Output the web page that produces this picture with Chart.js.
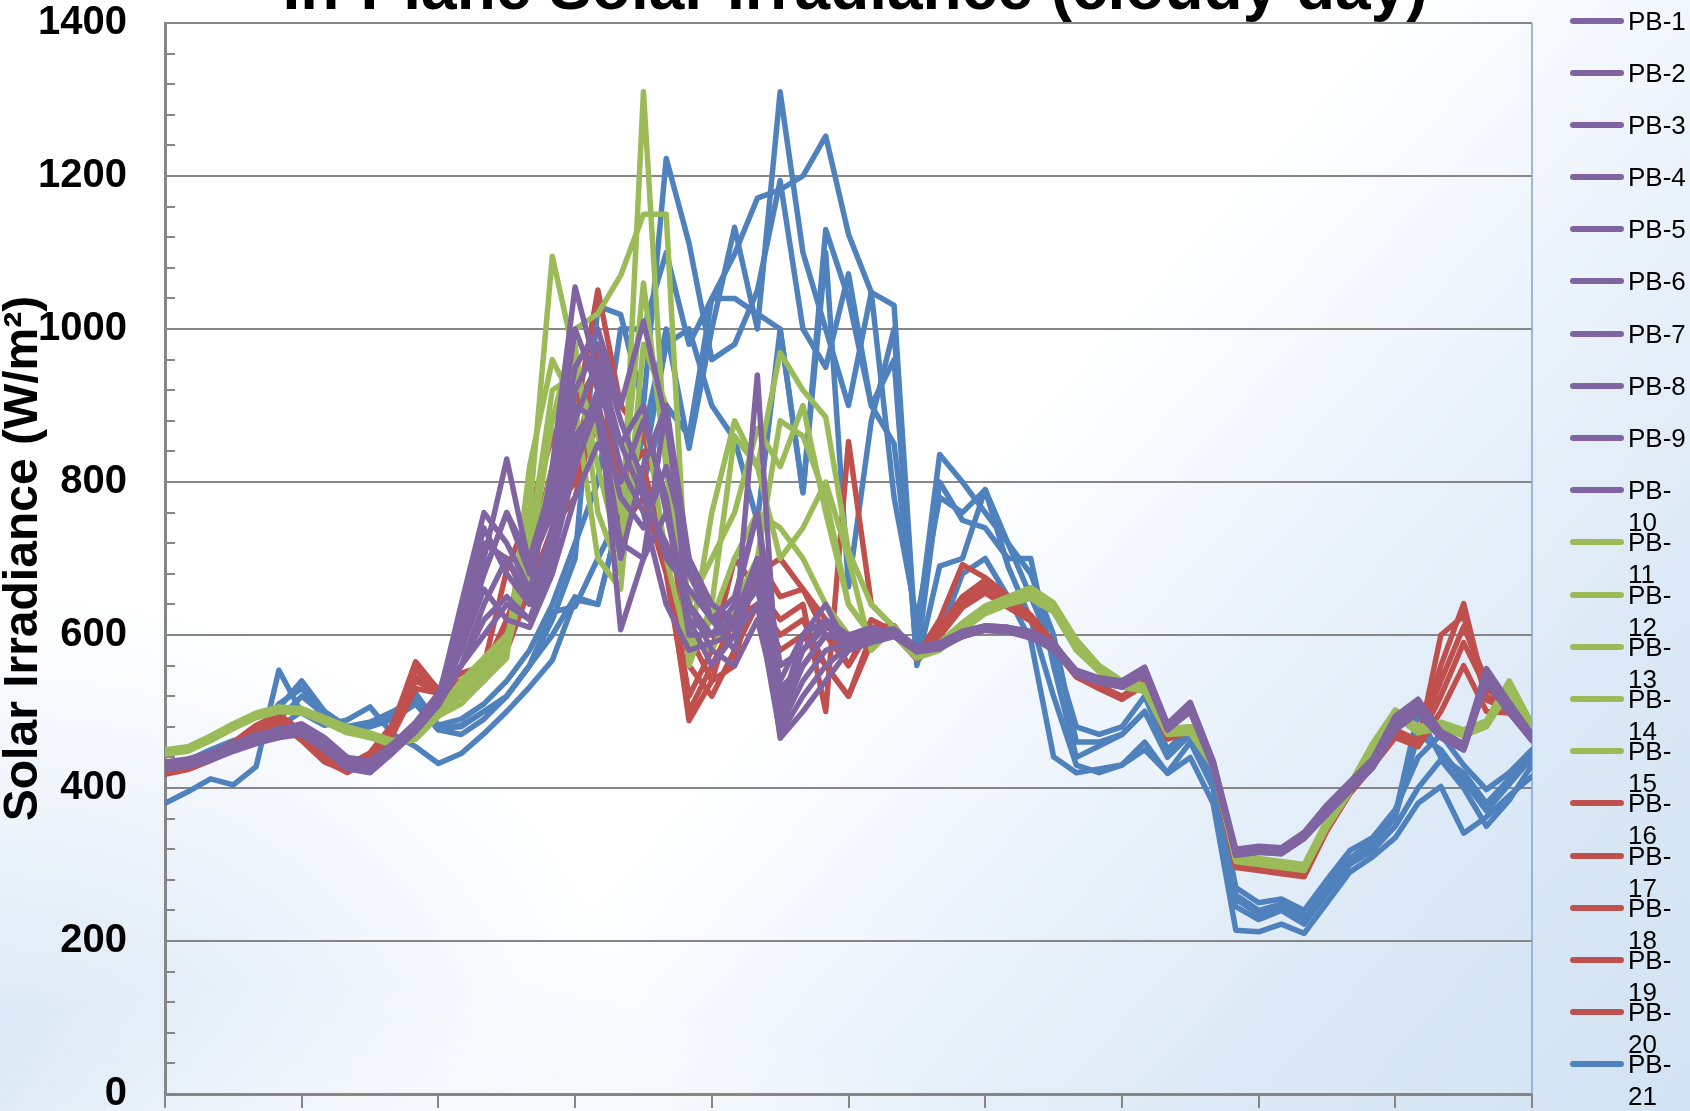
<!DOCTYPE html>
<html>
<head>
<meta charset="utf-8">
<title>In-Plane Solar Irradiance (cloudy day)</title>
<script src="https://cdn.jsdelivr.net/npm/chart.js@4.4.1/dist/chart.umd.min.js"></script>
<style>
  html, body { margin: 0; padding: 0; }
  body {
    width: 1690px; height: 1111px; overflow: hidden; position: relative;
    font-family: Arial, "Liberation Sans", sans-serif;
    background:
      radial-gradient(ellipse 1100px 480px at 22% 118%, rgba(255,255,255,0.95) 0%, rgba(255,255,255,0) 70%),
      radial-gradient(ellipse 650px 520px at 0% 100%, #d6e5f4 0%, rgba(214,229,244,0) 100%),
      linear-gradient(132deg, #ffffff 0%, #ffffff 52%, #edf4fb 66%, #dce9f6 82%, #d2e3f3 100%);
  }
  #chart { position: absolute; left: 0; top: 0; }
  #legend { position: absolute; left: 1568px; top: 0; width: 122px; margin: 0; padding: 0; list-style: none; }
  #legend li { position: relative; height: 52.2px; }
  #legend .swatch { position: absolute; left: 2px; top: 17.5px; width: 54px; height: 6px; border-radius: 3px; }
  #legend .lbl { position: absolute; left: 60px; top: 4.5px; width: 62px; font-size: 26px; line-height: 32px; color: #000; }
</style>
</head>
<body>
<canvas id="chart" width="1690" height="1111"></canvas>
<ul id="legend"></ul>
<script>
const chartTitle = "In-Plane Solar Irradiance (cloudy day)";
const yTitle = "Solar Irradiance (W/m\u00B2)";
const yTicks = [0, 200, 400, 600, 800, 1000, 1200, 1400];
const seriesNames = ["PB-1","PB-2","PB-3","PB-4","PB-5","PB-6","PB-7","PB-8","PB-9","PB-10",
  "PB-11","PB-12","PB-13","PB-14","PB-15","PB-16","PB-17","PB-18","PB-19","PB-20",
  "PB-21","PB-22","PB-23","PB-24","PB-25"];
const legendShown = 21; // the slide cuts the key off after PB-21

// readings, W/m2, one per sample (61 samples across the day)
const pb1 = [430,434,442,455,465,472,480,460,432,428,452,480,518,
  600,700,830,690,760,880,960,850,780,720,640,600,620,700,520,560,600,590,600,605,
  580,585,600,610,608,600,585,550,540,535,552,480,505,432,315,320,318,338,372,402,432,482,505,472,455,545,505,465];
const pb2 = [426,430,438,450,460,468,474,455,428,422,448,476,512,
  580,680,760,680,780,950,1000,900,1010,880,680,620,650,760,560,580,610,600,610,600,
  585,590,605,612,610,605,590,552,542,538,556,482,510,435,318,322,320,340,375,405,435,490,512,470,452,550,510,468];
const pb3 = [432,436,444,456,468,474,482,462,436,430,456,484,522,
  620,720,700,650,820,1055,940,820,760,640,580,590,600,640,470,520,560,585,595,600,
  578,582,598,608,606,598,580,548,538,532,548,478,500,430,312,318,316,336,368,398,428,478,500,468,450,540,500,462];
const pb4 = [424,428,436,448,458,466,470,450,425,420,446,474,508,
  560,640,700,640,720,900,880,700,820,900,620,560,600,940,480,540,580,590,600,600,
  582,588,602,610,606,602,588,550,540,536,554,480,508,434,316,320,318,338,370,400,432,486,508,468,452,548,506,466];
const pb5 = [428,432,440,452,462,470,478,462,436,432,454,480,516,
  640,760,720,660,700,820,900,720,700,760,640,580,560,620,500,600,640,580,595,600,
  580,586,600,610,608,600,585,552,540,535,550,476,502,430,314,318,316,336,370,400,430,480,502,470,454,544,502,464];
const pb6 = [430,434,442,454,464,470,476,458,430,426,450,478,514,
  560,620,650,620,700,840,920,607,700,900,700,620,580,700,465,500,540,580,590,598,
  578,584,598,606,604,596,582,548,538,534,550,478,500,428,312,316,314,334,366,396,426,476,498,466,450,538,498,462];
const pb7 = [426,430,438,450,460,466,472,452,426,424,448,474,510,
  600,680,760,700,800,1000,920,850,900,760,620,600,610,680,540,600,620,595,600,605,
  582,588,604,612,610,602,588,552,542,536,554,482,506,432,316,320,318,338,372,404,434,488,510,472,456,552,508,466];
const pb8 = [434,438,446,458,470,476,484,466,440,436,458,486,524,
  580,660,620,610,680,780,850,800,880,780,600,600,640,760,490,560,600,600,605,608,
  584,590,604,612,608,602,588,554,544,540,558,484,512,436,320,324,322,342,378,408,438,494,516,474,458,556,512,470];
const pb9 = [428,432,440,452,462,470,476,458,432,430,452,478,514,
  620,740,680,640,740,920,980,880,800,700,660,620,620,680,500,580,620,600,598,602,
  580,586,600,608,606,600,586,550,540,534,550,478,502,430,314,318,316,336,368,398,428,478,500,468,452,542,502,464];
const pb10 = [432,436,444,456,466,474,480,460,434,430,454,482,520,
  560,600,640,620,700,860,900,780,740,820,700,640,620,660,530,560,600,590,600,604,
  580,584,598,608,606,598,584,550,538,532,548,476,500,428,312,316,314,334,366,396,426,476,498,466,450,538,500,462];
const pb11 = [448,452,466,482,496,504,500,490,478,470,460,468,498,
  530,560,590,760,1095,960,820,700,1310,820,580,620,700,760,740,700,640,600,590,600,
  570,584,612,632,645,655,636,585,556,536,530,474,476,432,308,304,300,296,352,398,452,498,476,482,472,484,532,478];
const pb12 = [446,450,464,480,494,502,502,488,476,468,458,466,496,
  520,550,580,700,880,1000,1020,1070,1150,1150,600,580,640,700,880,860,780,640,600,610,
  574,588,614,636,648,660,640,590,558,538,532,476,478,434,310,306,302,298,356,400,454,500,478,484,474,486,536,480];
const pb13 = [444,448,462,478,492,500,498,486,472,466,456,464,494,
  510,540,570,820,960,900,700,660,980,900,560,640,860,820,969,920,885,710,640,610,
  578,590,616,638,650,662,642,594,560,540,534,478,480,436,312,308,304,300,358,404,458,502,480,486,476,488,540,484];
const pb14 = [450,454,468,484,498,506,504,492,480,472,462,470,500,
  540,570,600,680,820,980,760,680,900,700,580,760,880,820,700,740,800,700,580,610,
  572,582,610,630,642,650,632,582,554,534,528,472,474,430,306,302,298,294,350,396,450,496,474,480,470,482,528,476];
const pb15 = [445,449,462,478,492,500,500,486,474,466,456,464,494,
  520,560,583,720,920,940,860,760,1060,820,640,700,760,870,820,900,760,640,600,600,
  570,580,606,628,640,648,630,580,552,532,526,470,472,428,304,300,296,292,348,394,446,494,472,478,468,480,526,474];
const pb16 = [420,426,438,456,478,492,470,440,425,440,478,545,530,
  540,555,620,700,820,880,1051,900,860,780,560,520,580,640,600,620,560,520,600,610,
  570,600,640,660,640,620,585,548,532,518,538,468,478,432,300,296,292,288,348,398,432,472,458,560,641,520,505,472];
const pb17 = [418,424,436,454,474,488,466,436,420,436,474,540,526,
  530,545,600,760,860,900,950,800,820,700,488,540,640,680,700,660,600,560,620,605,
  576,610,650,672,650,626,590,550,534,520,540,470,480,434,302,298,294,290,350,400,436,476,462,540,611,540,512,476];
const pb18 = [422,428,440,458,480,494,472,444,428,444,482,565,528,
  540,560,685,760,780,820,980,760,800,700,520,580,700,660,620,640,500,853,640,610,
  572,620,692,675,651,622,588,548,530,516,536,466,476,430,298,294,290,286,346,396,430,470,456,600,625,515,502,470];
const pb19 = [424,430,442,460,482,496,474,446,430,446,484,555,530,
  550,560,610,700,760,800,880,740,780,680,500,560,620,640,580,600,560,520,590,600,
  568,598,636,655,636,618,582,545,530,516,534,464,474,430,296,292,288,284,344,392,428,466,454,500,560,500,498,468];
const pb20 = [420,425,436,452,472,486,462,434,422,438,470,530,524,
  520,540,580,660,740,780,900,800,840,780,600,540,560,700,650,660,620,560,610,612,
  574,604,644,664,644,624,588,550,532,518,538,468,478,432,300,296,292,288,348,398,434,474,460,520,590,530,508,474];
const pb21 = [425,430,445,458,470,505,540,500,478,482,495,520,478,
  480,500,520,560,620,700,1030,1019,900,1223,1112,960,980,1050,1194,1000,950,1072,900,850,
  600,836,800,760,720,650,580,480,470,480,520,450,480,420,270,250,255,240,280,318,335,372,440,470,430,398,420,450];
const pb22 = [420,426,440,454,468,490,520,496,476,480,490,510,476,
  470,490,520,560,600,650,640,759,860,1000,844,1000,1133,1000,1310,1100,1000,900,1048,780,
  620,780,760,790,720,680,600,460,460,470,500,440,470,410,260,240,248,232,272,308,330,366,498,440,420,380,412,445];
const pb23 = [428,432,448,460,472,510,530,500,480,486,498,524,482,
  490,510,540,580,640,720,800,1000,1000,1100,980,1040,1098,1171,1182,1200,1252,1124,1048,1031,
  570,800,750,740,700,700,560,440,455,470,500,445,475,410,255,235,245,228,268,304,325,362,470,450,410,370,405,440];
const pb24 = [430,436,450,462,470,480,500,495,480,486,500,515,476,
  482,500,520,560,630,637,700,760,820,980,1000,900,856,748,1000,786,1100,663,880,1000,
  560,690,700,790,690,620,520,430,420,430,450,420,460,400,245,228,240,222,262,300,318,350,400,437,400,350,384,430];
const pb25 = [380,395,412,404,428,554,498,482,489,506,470,454,432,
  445,471,500,532,567,646,640,760,800,900,860,1040,1040,1020,1000,786,1130,1040,900,960,
  565,600,680,700,650,593,441,420,425,430,460,419,440,380,214,212,222,210,250,290,310,335,380,402,341,362,390,415];

const seriesValues = [pb1, pb2, pb3, pb4, pb5, pb6, pb7, pb8, pb9, pb10,
  pb11, pb12, pb13, pb14, pb15, pb16, pb17, pb18, pb19, pb20,
  pb21, pb22, pb23, pb24, pb25];

const PURPLE = "#8064A2", GREEN = "#9BBB59", RED = "#C0504D", BLUE = "#4F81BD";
const AXIS_GREY = "#868686";

function colorFor(idx) {
  if (idx < 10) return PURPLE;
  if (idx < 15) return GREEN;
  if (idx < 20) return RED;
  return BLUE;
}

const datasets = seriesValues.map((vals, idx) => ({
  label: seriesNames[idx],
  data: vals.map((v, i) => ({ x: i, y: v })),
  borderColor: colorFor(idx),
  backgroundColor: colorFor(idx),
  borderWidth: 5.5,
  pointRadius: 0,
  tension: 0,
  borderJoinStyle: "round",
  borderCapStyle: "round",
  fill: false
}));

// title sits above the plot, partly outside the slide like the original
const slideTitle = {
  id: "slideTitle",
  afterDraw(chart, args, opts) {
    const { ctx } = chart;
    ctx.save();
    ctx.font = "bold 64px Arial, 'Liberation Sans', sans-serif";
    ctx.fillStyle = "#000";
    ctx.textAlign = "center";
    ctx.textBaseline = "alphabetic";
    ctx.fillText(opts.text, opts.x, opts.y);
    ctx.restore();
  }
};

// minor ticks inside the value axis + blue right edge of the plot
const frameExtras = {
  id: "frameExtras",
  beforeDatasetsDraw(chart) {
    const { ctx, chartArea, scales } = chart;
    const y = scales.y;
    ctx.save();
    ctx.strokeStyle = AXIS_GREY;
    ctx.lineWidth = 2;
    for (let v = 40; v < 1400; v += 40) {
      if (v % 200 === 0) continue;
      const py = Math.round(y.getPixelForValue(v));
      ctx.beginPath();
      ctx.moveTo(chartArea.left, py);
      ctx.lineTo(chartArea.left + 10, py);
      ctx.stroke();
    }
    ctx.strokeStyle = "#7EA6D8";
    ctx.lineWidth = 1.5;
    ctx.beginPath();
    ctx.moveTo(chartArea.right, chartArea.top);
    ctx.lineTo(chartArea.right, chartArea.bottom);
    ctx.stroke();
    ctx.restore();
  }
};

const chart = new Chart(document.getElementById("chart"), {
  type: "line",
  data: { datasets: datasets },
  options: {
    responsive: false,
    animation: false,
    devicePixelRatio: 1,
    layout: { padding: { top: 23, right: 158, left: 0, bottom: 0 } },
    plugins: {
      legend: { display: false },
      tooltip: { enabled: false },
      title: { display: false },
      slideTitle: { text: chartTitle, x: 855, y: 9 }
    },
    scales: {
      x: {
        type: "linear",
        min: 0,
        max: 60,
        ticks: { stepSize: 6, display: false },
        grid: { drawOnChartArea: false, drawTicks: true, tickLength: 14, color: AXIS_GREY, lineWidth: 2 },
        border: { color: AXIS_GREY, width: 3 },
        afterFit(scale) {
          scale.height = 17;
          scale.paddingLeft = 0;
          scale.paddingRight = 0;
        }
      },
      y: {
        min: 0,
        max: 1400,
        afterBuildTicks(scale) { scale.ticks = yTicks.map(v => ({ value: v })); },
        ticks: {
          padding: 38,
          color: "#000",
          font: { family: "Arial, 'Liberation Sans', sans-serif", size: 40, weight: "bold" },
          callback: (v) => String(v)
        },
        grid: { color: AXIS_GREY, lineWidth: 2, drawTicks: false },
        border: { color: AXIS_GREY, width: 3 },
        title: {
          display: true,
          text: yTitle,
          color: "#000",
          padding: 0,
          font: { family: "Arial, 'Liberation Sans', sans-serif", size: 48, weight: "bold", lineHeight: 1 }
        },
        afterFit(scale) {
          scale.width = 165;
          scale.paddingTop = 0;
          scale.paddingBottom = 0;
        }
      }
    }
  },
  plugins: [slideTitle, frameExtras]
});

// html legend, narrow like the original so long names wrap after the dash
function buildLegend(c) {
  const ul = document.getElementById("legend");
  ul.innerHTML = "";
  c.data.datasets.slice(0, legendShown).forEach(ds => {
    const li = document.createElement("li");
    const sw = document.createElement("span");
    sw.className = "swatch";
    sw.style.background = ds.borderColor;
    const lbl = document.createElement("span");
    lbl.className = "lbl";
    const parts = ds.label.split("-");
    lbl.append(parts[0] + "-", document.createElement("wbr"), parts[1]);
    li.append(sw, lbl);
    ul.appendChild(li);
  });
}
buildLegend(chart);
</script>
</body>
</html>
